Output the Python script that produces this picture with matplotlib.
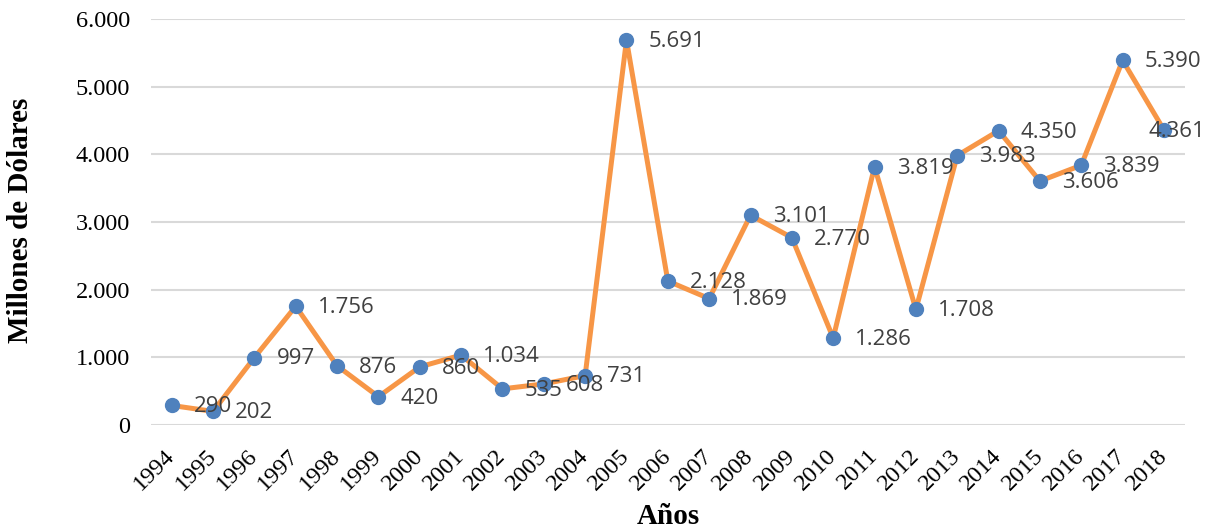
import matplotlib.pyplot as plt
from matplotlib.ticker import FuncFormatter

# Inversión anual (millones de dólares)
years = [str(y) for y in range(1994, 2019)]
values = [290, 202, 997, 1756, 876, 420, 860, 1034, 535, 608, 731, 5691, 2128,
          1869, 3101, 2770, 1286, 3819, 1708, 3983, 4350, 3606, 3839, 5390, 4361]
y_ticks = [0, 1000, 2000, 3000, 4000, 5000, 6000]


def miles(v, pos=None):
    return f"{int(v):,}".replace(",", ".")


fig = plt.figure(figsize=(12.15, 5.3), dpi=100)
ax = fig.add_axes([0.1243, 0.198, 0.8507, 0.766])

x = list(range(len(years)))
ax.plot(x, values, color='#F79646', linewidth=3.6, marker='o', markersize=10,
        markerfacecolor='#4F81BD', markeredgecolor='#4F81BD', zorder=3)

for xi, v in zip(x, values):
    # el último rótulo se corre hacia adentro para no salir del gráfico
    dx = 16 if xi < len(years) - 1 else -11
    ax.annotate(miles(v), (xi, v), xytext=(dx, -1), textcoords='offset points',
                ha='left', va='center', fontsize=16, color='#404040',
                family='Open Sans', zorder=4)

ax.set_xlim(-0.5, len(years) - 0.5)
ax.set_ylim(0, 6000)
ax.set_yticks(y_ticks)
ax.yaxis.set_major_formatter(FuncFormatter(miles))
ax.set_xticks(x)
ax.set_xticklabels(years, rotation=45, ha='right', va='center', rotation_mode='anchor')

for lbl in ax.get_xticklabels() + ax.get_yticklabels():
    lbl.set_family('Liberation Serif')
    lbl.set_fontsize(17.5)
    lbl.set_color('#000000')

ax.tick_params(axis='y', length=0, pad=15)
ax.tick_params(axis='x', length=0, pad=20)
ax.grid(axis='y', color='#D9D9D9', linewidth=1.5)
ax.set_axisbelow(True)
for s in ax.spines.values():
    s.set_visible(False)

fig.text(0.017, 0.585, 'Millones de Dólares', rotation=90, ha='center', va='center',
         family='Liberation Serif', fontweight='bold', fontsize=21)
fig.text(0.55, 0.026, 'Años', ha='center', va='center',
         family='Liberation Serif', fontweight='bold', fontsize=21)

fig.savefig('out.png', dpi=100)
